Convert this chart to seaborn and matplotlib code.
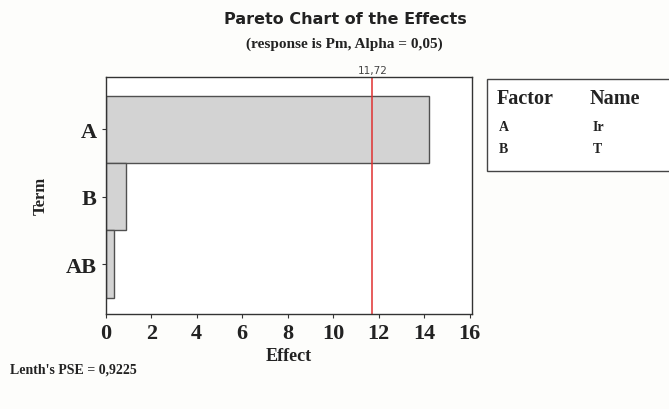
import numpy as np
import pandas as pd
import seaborn as sns
import matplotlib.pyplot as plt
from matplotlib.patches import Rectangle

# data
terms = ["A", "B", "AB"]
effects = [14.2, 0.88, 0.35]
critical = 11.72
factors = ["A", "B"]
factor_names = ["Ir", "T"]
lenth_pse = "0,9225"

df = pd.DataFrame({"Term": terms, "Effect": effects})

sns.set_theme(style="white")
serif = ["Liberation Serif", "DejaVu Serif"]

fig = plt.figure(figsize=(6.69, 4.10), dpi=100)
fig.patch.set_facecolor("#fdfdfb")
ax = fig.add_axes([0.158, 0.232, 0.5475, 0.578])
ax.set_facecolor("white")

sns.barplot(data=df, x="Effect", y="Term", orient="h", ax=ax, width=1.0,
            color="#d3d3d3", edgecolor="#505050", linewidth=1.0, saturation=1)

ax.axvline(critical, color="#e03030", lw=1.1)
ax.text(critical, 1.01, "11,72", transform=ax.get_xaxis_transform(),
        ha="center", va="bottom", fontsize=7.5, color="#444444")

ax.set_xlim(0, 16.1)
ax.set_ylim(2.74, -0.78)
ax.set_xticks(np.arange(0, 17, 2))
for s in ax.spines.values():
    s.set_color("#333333")
    s.set_linewidth(1.0)

ax.tick_params(axis="both", direction="out", length=3, width=0.8, color="#333333",
               bottom=True, left=True)
for lab in ax.get_xticklabels() + ax.get_yticklabels():
    lab.set_fontfamily(serif)
    lab.set_fontweight("bold")
    lab.set_fontsize(16)
    lab.set_color("#222222")

ax.set_xlabel("Effect", fontfamily=serif, fontweight="bold", fontsize=13, color="#222222", labelpad=3)
ax.set_ylabel("Term", fontfamily=serif, fontweight="bold", fontsize=12, color="#222222", labelpad=12)

fig.text(0.516, 0.952, "Pareto Chart of the Effects", ha="center", va="center",
         fontsize=11.5, fontweight="bold", color="#222222")
fig.text(0.514, 0.893, "(response is Pm, Alpha = 0,05)", ha="center", va="center",
         fontsize=11, fontweight="bold", fontfamily=serif, color="#222222")
fig.text(0.015, 0.097, f"Lenth's PSE = {lenth_pse}", ha="left", va="center",
         fontsize=10, fontweight="bold", fontfamily=serif, color="#222222")

# factor legend box
fig.add_artist(Rectangle((0.728, 0.58), 0.30, 0.225, transform=fig.transFigure,
                         facecolor="white", edgecolor="#444444", lw=1.0))
fig.text(0.743, 0.758, "Factor", fontsize=14.5, fontweight="bold", fontfamily=serif,
         color="#222222", va="center")
fig.text(0.882, 0.758, "Name", fontsize=14.5, fontweight="bold", fontfamily=serif,
         color="#222222", va="center")
for i, (f, n) in enumerate(zip(factors, factor_names)):
    y = 0.69 - i * 0.055
    fig.text(0.745, y, f, fontsize=10, fontweight="bold", fontfamily=serif, color="#222222", va="center")
    fig.text(0.886, y, n, fontsize=10, fontweight="bold", fontfamily=serif, color="#222222", va="center")

fig.savefig("out.png", dpi=100)
